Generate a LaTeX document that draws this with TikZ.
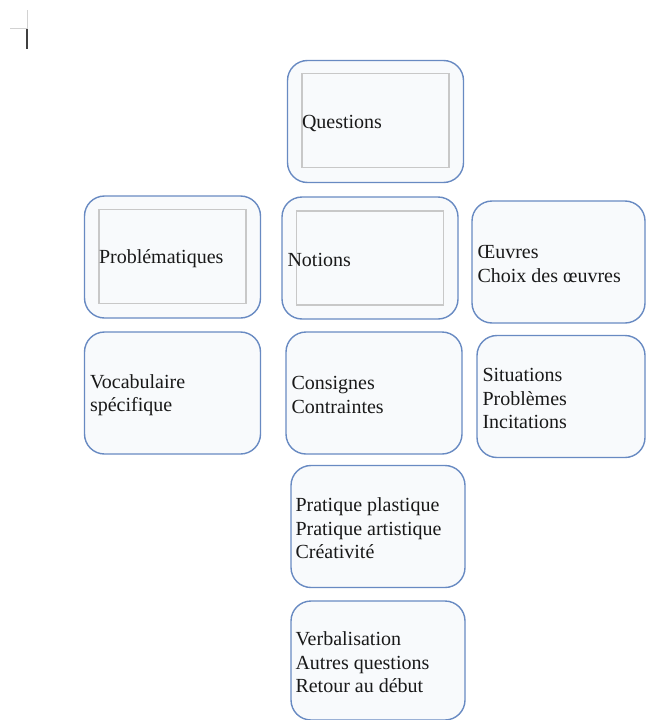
\documentclass[tikz,border=0pt]{standalone}
\usepackage{fontspec}
\setmainfont{Liberation Serif}
\definecolor{boxblue}{RGB}{104,138,194}
\definecolor{boxfill}{RGB}{248,250,252}
\definecolor{innergrey}{RGB}{200,200,200}

\begin{document}
\begin{tikzpicture}
  [x=1pt,y=-1pt,
   box/.style={draw=boxblue,fill=boxfill,line width=1.4pt,rounded corners=20pt,
     minimum width=176pt,minimum height=122pt,inner sep=0pt},
   inbox/.style={draw=innergrey,line width=1.3pt,minimum width=147pt,
     minimum height=94pt,inner sep=0pt},
   txt/.style={anchor=west,align=left,inner sep=0pt,yshift=-2pt,
     font=\fontsize{20}{23.5}\selectfont,text=black!90}]
  \useasboundingbox (0,0) rectangle (646,720);
  % page corner and cursor
  \draw[gray!35,line width=1pt] (27,10) -- (27,28) -- (10,28);
  \draw[black!75,line width=1.3pt] (27,29) -- (27,49);
  % boxes
  \node[box] (questions) at (375.5,121.5) {};
  \node[box] (problem) at (172.5,257) {};
  \node[box] (notions) at (370,258) {};
  \node[box,minimum width=173pt] (oeuvres) at (558.5,262) {};
  \node[box] (vocab) at (172.5,393) {};
  \node[box] (consignes) at (374,393) {};
  \node[box,minimum width=168pt] (situations) at (561,396.5) {};
  \node[box,minimum width=174pt] (pratique) at (378,526.5) {};
  \node[box,minimum width=174pt,minimum height=119pt] (verbal) at (378,660.5) {};
  % inner frames
  \foreach \name/\x/\y in {fq/375.5/120.5,fp/172.5/256.5,fn/370/258}
    \node[inbox] (\name) at (\x,\y) {};
  % texts
  \node[txt] (tq) at ([xshift=15pt]questions.west) {Questions};
  \node[txt] (tp) at ([xshift=15pt]problem.west) {Problématiques};
  \node[txt] (tn) at ([xshift=6pt]notions.west) {Notions};
  \node[txt] (to) at ([xshift=6pt]oeuvres.west) {Œuvres\\Choix des œuvres};
  \node[txt] (tv) at ([xshift=6pt]vocab.west) {Vocabulaire\\spécifique};
  \node[txt] (tc) at ([xshift=6pt]consignes.west) {Consignes\\Contraintes};
  \node[txt] (ts) at ([xshift=6pt]situations.west) {Situations\\Problèmes\\Incitations};
  \node[txt] (tr) at ([xshift=5pt]pratique.west) {Pratique plastique\\Pratique artistique\\Créativité};
  \node[txt] (tb) at ([xshift=5pt]verbal.west) {Verbalisation\\Autres questions\\Retour au début};
\end{tikzpicture}
\end{document}
